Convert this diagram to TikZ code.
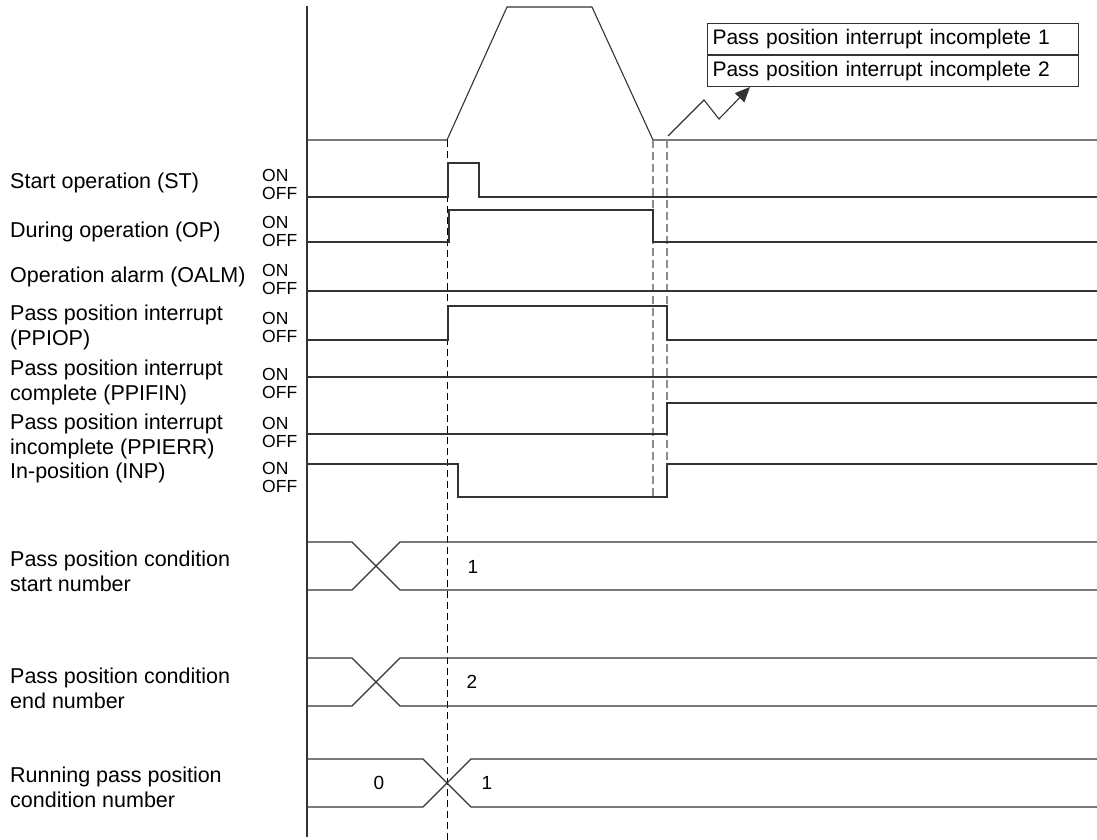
\documentclass[tikz,border=0pt]{standalone}
\usepackage{fontspec}
\setmainfont{Liberation Sans}
\usepackage{tikz}
\usetikzlibrary{calc,arrows.meta,positioning}
\definecolor{wavegray}{HTML}{333333}
\definecolor{markgray}{HTML}{8C8C8C}
\tikzset{
  wave/.style={draw=wavegray, line width=1.1pt},
  timemark/.style={draw=black, line width=0.8pt, dash pattern=on 7pt off 4pt},
  endmark/.style={draw=markgray, line width=1.1pt, dash pattern=on 8pt off 4pt},
  siglabel/.style={anchor=west, align=left, inner sep=0pt, font=\fontsize{21.5}{25}\selectfont},
  onoff/.style={anchor=west, align=left, inner sep=0pt, font=\fontsize{17.5}{18}\selectfont},
  busval/.style={inner sep=0pt, font=\fontsize{19}{20}\selectfont},
  msgbox/.style={draw=wavegray, line width=1pt, anchor=north west, minimum height=31pt,
    text width=361pt, inner xsep=5pt, inner ysep=0pt, align=left, font=\fontsize{21}{25}\selectfont}
}
\newcommand{\buscross}[4][]{%
  \draw[wave,#1] (307,#3) -- (#2,#3) -- ({#2+48},#4) -- (1097,#4);
  \draw[wave,#1] (307,#4) -- (#2,#4) -- ({#2+48},#3) -- (1097,#3);%
}

\begin{document}
\begin{tikzpicture}[x=1pt, y=-1pt]
  \useasboundingbox (0,0) rectangle (1097,840);

  % time marks
  \def\tstart{447}
  \def\tstop{653}
  \def\tend{667}

  % time axis
  \draw[wave] (307,6) -- (307,837);

  % speed profile
  \draw[wave] (307,140) -- (\tstart,140) -- (507,7) -- (592,7) -- (\tstop,140) -- (1097,140);

  % dashed time marks
  \draw[timemark] (\tstart,140) -- (\tstart,840);
  \draw[endmark] (\tstop,140) -- (\tstop,498);
  \draw[endmark] (\tend,140) -- (\tend,498);

  % signals
  \draw[wave] (307,197) -- (448,197) -- (448,163) -- (479,163) -- (479,197) -- (1097,197);
  \draw[wave] (307,242) -- (449,242) -- (449,210) -- (\tstop,210) -- (\tstop,242) -- (1097,242);
  \draw[wave] (307,291) -- (1097,291);
  \draw[wave] (307,340) -- (448,340) -- (448,306) -- (\tend,306) -- (\tend,340) -- (1097,340);
  \draw[wave] (307,377) -- (1097,377);
  \draw[wave] (307,434) -- (\tend,434) -- (\tend,403) -- (1097,403);
  \draw[wave] (307,464) -- (458,464) -- (458,497) -- (\tend,497) -- (\tend,464) -- (1097,464);

  % signal names
  \node[siglabel] (lbl-st) at (10,183) {Start operation (ST)};
  \node[siglabel] (lbl-op) at (10,232) {During operation (OP)};
  \node[siglabel] (lbl-oalm) at (10,277) {Operation alarm (OALM)};
  \node[siglabel] (lbl-ppiop) at (10,327) {Pass position interrupt\\(PPIOP)};
  \node[siglabel] (lbl-ppifin) at (10,382) {Pass position interrupt\\complete (PPIFIN)};
  \node[siglabel] (lbl-ppierr) at (10,436) {Pass position interrupt\\incomplete (PPIERR)};
  \node[siglabel] (lbl-inp) at (10,473) {In-position (INP)};
  \node[siglabel] (lbl-startno) at (10,571) {Pass position condition\\start number};
  \node[siglabel] (lbl-endno) at (10,688) {Pass position condition\\end number};
  \node[siglabel] (lbl-runno) at (10,787) {Running pass position\\condition number};

  % ON/OFF levels
  \foreach \nm/\y in {st/184, op/231, oalm/279, ppiop/327, ppifin/383, ppierr/432, inp/477}{
    \node[onoff] (lvl-\nm) at (262,\y) {ON\\OFF};
  }

  % number buses
  \buscross{352}{542}{590}
  \buscross{352}{658}{706}
  \buscross{423}{759}{807}
  \node[busval] (val-start) at (473,567) {1};
  \node[busval] (val-end) at (472,682) {2};
  \node[busval] (val-run0) at (379,783) {0};
  \node[busval] (val-run1) at (487,783) {1};

  % incomplete messages
  \node[msgbox] (incomp1) at (707,23) {Pass position interrupt incomplete 1};
  \node[msgbox, below=0pt of incomp1] (incomp2) {Pass position interrupt incomplete 2};
  \coordinate (zzstart) at (668,136);
  \draw[wave, -{Triangle[length=15pt,width=13pt]}] (zzstart) -- (704,100) -- (719,119)
    -- ($(incomp2.south west)+(43,0)$);

\end{tikzpicture}
\end{document}
